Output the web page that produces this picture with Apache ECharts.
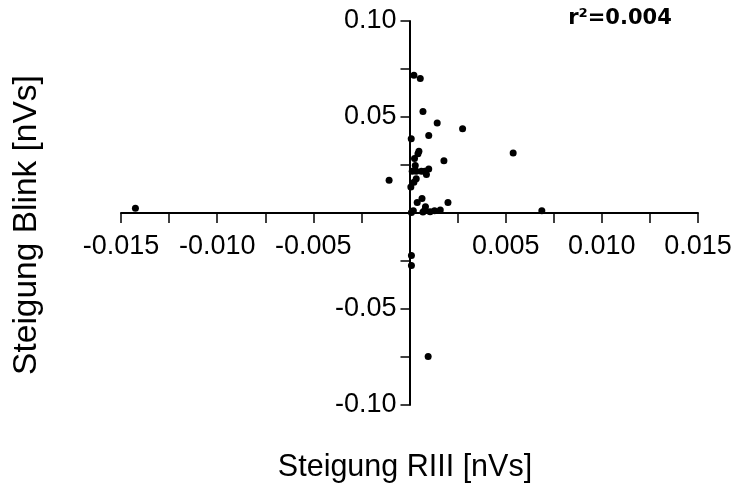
<!DOCTYPE html>
<html>
<head>
<meta charset="utf-8">
<script src="https://cdn.jsdelivr.net/npm/echarts@6/dist/echarts.min.js"></script>
<style>
  html, body { margin: 0; padding: 0; background: #ffffff; }
  #chart { width: 735px; height: 488px; }
</style>
</head>
<body>
<div id="chart"></div>
<script>
// Slope of RIII response (x) vs slope of blink response (y), one dot per subject
const slopeRIII = [
  -0.01425, 0.00688, 0.00539, 0.00023, 0.00056, 0.00070, 0.00144, 0.00276,
  0.00009, 0.00100, 0.00049, 0.00044, 0.00026, 0.00179, 0.00030, 0.00014,
  0.00035, 0.00062, 0.00079, 0.00100, 0.00088, -0.00106, 0.00035, 0.00023,
  0.00007, 0.00065, 0.00040, 0.00200, 0.00083, 0.00020, 0.00070, 0.00080,
  0.00107, 0.00130, 0.00160, 0.00010, 0.00010, 0.00010, 0.00097
];
const slopeBlink = [
  0.0025, 0.0012, 0.0313, 0.0717, 0.0700, 0.0528, 0.0469, 0.0439,
  0.0387, 0.0404, 0.0321, 0.0309, 0.0284, 0.0272, 0.0248, 0.0217,
  0.0217, 0.0217, 0.0217, 0.0229, 0.0200, 0.0170, 0.0179, 0.0160,
  0.0136, 0.0075, 0.0055, 0.0055, 0.0033, 0.0012, 0.0005, 0.0016,
  0.0007, 0.0012, 0.0015, 0.0002, -0.0221, -0.0273, -0.0747
];
const r2Label = 'r\u00b2=0.004';
const xTitle = 'Steigung RIII [nVs]';
const yTitle = 'Steigung Blink [nVs]';

const points = slopeRIII.map((x, i) => [x, slopeBlink[i]]);

// Plot area; the two axes cross at the origin, in the middle of it
const grid = { left: 121, right: 37, top: 21, bottom: 83 };
const W = 735, H = 488;
const plotW = W - grid.left - grid.right;
const plotH = H - grid.top - grid.bottom;

const labelFont = { fontFamily: 'Liberation Sans', fontSize: 27, color: '#000' };

const chart = echarts.init(document.getElementById('chart'), null, { renderer: 'canvas' });
chart.setOption({
  animation: false,
  backgroundColor: '#ffffff',
  grid: Object.assign({ containLabel: false }, grid),
  xAxis: {
    type: 'value',
    position: 'bottom',
    offset: -plotH / 2,
    min: -0.015, max: 0.015, interval: 0.0025,
    axisLine: { onZero: false, lineStyle: { color: '#000', width: 2 } },
    axisTick: { show: true, length: 10, lineStyle: { color: '#000', width: 1.5 } },
    splitLine: { show: false },
    axisLabel: Object.assign({}, labelFont, {
      margin: 20,
      showMinLabel: true, showMaxLabel: true,
      formatter: v => {
        const k = Math.round(v / 0.0025);
        if (k === 0 || k % 2 !== 0) return '';
        return (k * 0.0025).toFixed(3);
      }
    })
  },
  yAxis: {
    type: 'value',
    position: 'left',
    offset: -plotW / 2,
    min: -0.10, max: 0.10, interval: 0.025,
    axisLine: { onZero: false, lineStyle: { color: '#000', width: 2 } },
    axisTick: { show: true, length: 9, lineStyle: { color: '#000', width: 1.5 } },
    splitLine: { show: false },
    axisLabel: Object.assign({}, labelFont, {
      margin: 13,
      showMinLabel: true, showMaxLabel: true,
      formatter: v => {
        const k = Math.round(v / 0.025);
        if (k === 0 || k % 2 !== 0) return '';
        return (k * 0.025).toFixed(2);
      }
    })
  },
  series: [{
    type: 'scatter',
    data: points,
    symbol: 'circle',
    symbolSize: 7,
    itemStyle: { color: '#000', opacity: 1 }
  }],
  graphic: [
    {
      type: 'text', x: 405, y: 468,
      style: { text: xTitle, font: '30.5px "Liberation Sans"', fill: '#000', align: 'center', verticalAlign: 'middle' }
    },
    {
      type: 'text', x: 27, y: 225, rotation: Math.PI / 2,
      style: { text: yTitle, font: '33.5px "Liberation Sans"', fill: '#000', align: 'center', verticalAlign: 'middle' }
    },
    {
      type: 'text', x: 620, y: 19,
      style: { text: r2Label, font: 'bold 21px "DejaVu Sans"', fill: '#000', align: 'center', verticalAlign: 'middle' }
    }
  ]
});
</script>
</body>
</html>
